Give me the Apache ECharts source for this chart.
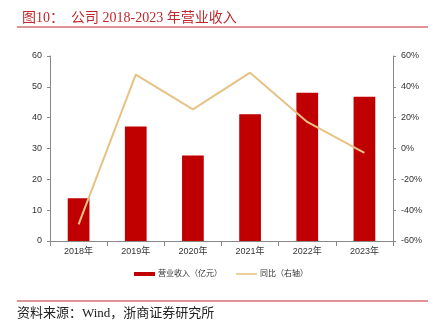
<!DOCTYPE html>
<html><head><meta charset="utf-8">
<script src="https://cdn.jsdelivr.net/npm/echarts@6/dist/echarts.min.js"></script>
<style>html,body{margin:0;padding:0;background:#fff}#c{width:442px;height:327px}</style>
</head><body><div id="c"></div>
<script>
const categories = ['2018年','2019年','2020年','2021年','2022年','2023年'];
const revenue = [13.9, 37.1, 27.7, 41.1, 48.1, 46.8];
const yoy = [-49.2, 47.9, 25.4, 49.2, 17.2, -2.9];
const leftTicks = [0, 60, 10];
const rightTicks = [-60, 60, 20];

const chart = echarts.init(document.getElementById('c'), null, {renderer:'canvas'});
const serif = '"Liberation Serif","Noto Sans CJK SC",serif';
const sans = '"Liberation Sans","Noto Sans CJK SC",sans-serif';
chart.setOption({
  animation:false,
  title:{text:'图10：  公司 2018-2023 年营业收入', left:17, top:6,
    textStyle:{fontFamily:serif, fontSize:14, fontWeight:'normal', color:'#c0282d'}},
  graphic:[
    {type:'line', shape:{x1:17,y1:27,x2:428,y2:27}, style:{stroke:'#c0282d', lineWidth:1}},
    {type:'line', shape:{x1:17,y1:301,x2:428,y2:301}, style:{stroke:'#c0282d', lineWidth:1}},
    {type:'text', left:17, top:307, style:{text:'资料来源：Wind，浙商证券研究所', font:'13px '+serif, fill:'#222'}}
  ],
  grid:{left:50, right:49, top:56, bottom:86},
  legend:{top:265, left:'center', itemGap:14, itemWidth:21, itemHeight:4,
    textStyle:{fontSize:8, fontFamily:sans, color:'#333', padding:[0,0,0,-2]},
    data:[{name:'营业收入（亿元）', icon:'rect'},
          {name:'同比（右轴）', icon:'path://M0,0 L40,0 L40,3 L0,3 Z'}]},
  xAxis:{type:'category', data:categories,
    axisLine:{lineStyle:{color:'#888'}}, axisTick:{show:true, lineStyle:{color:'#888'}},
    axisLabel:{fontSize:9, color:'#333', fontFamily:sans, margin:6}},
  yAxis:[
    {type:'value', min:leftTicks[0], max:leftTicks[1], interval:leftTicks[2], splitLine:{show:false},
     axisLine:{show:true, lineStyle:{color:'#888'}}, axisTick:{show:true, length:3, lineStyle:{color:'#888'}},
     axisLabel:{fontSize:9, color:'#333', fontFamily:sans, margin:8}},
    {type:'value', min:rightTicks[0], max:rightTicks[1], interval:rightTicks[2], splitLine:{show:false},
     axisLine:{show:true, lineStyle:{color:'#888'}}, axisTick:{show:true, length:3, lineStyle:{color:'#888'}},
     axisLabel:{fontSize:9, color:'#333', fontFamily:sans, margin:8, formatter:'{value}%'}}
  ],
  series:[
    {name:'营业收入（亿元）', type:'bar', data:revenue, barWidth:'38%', itemStyle:{color:'#c00000'}},
    {name:'同比（右轴）', type:'line', yAxisIndex:1, data:yoy, symbol:'none',
     lineStyle:{color:'#e6c384', width:2}, itemStyle:{color:'#e6c384'}}
  ]
});
</script></body></html>
